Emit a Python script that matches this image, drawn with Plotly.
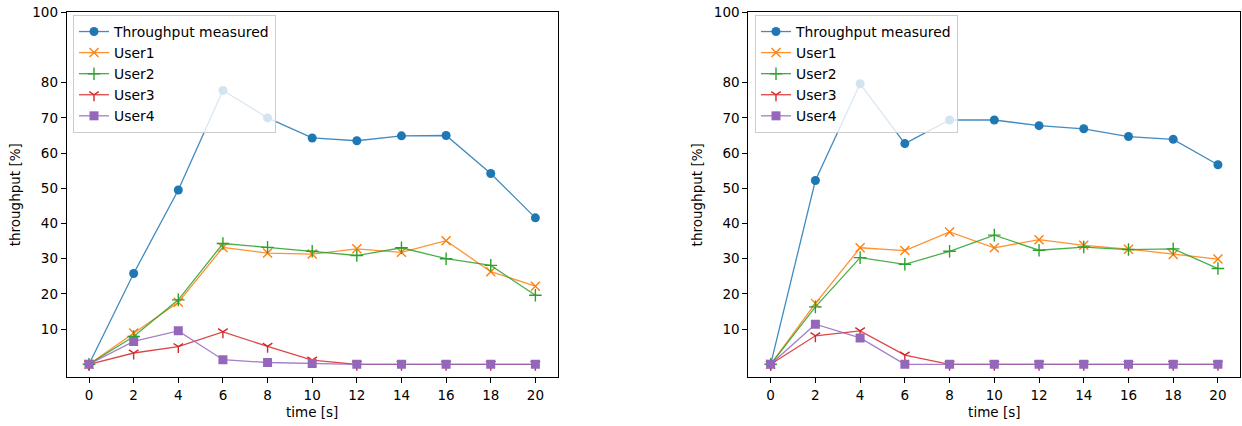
import plotly.graph_objects as go

# ---- data ----
time_s = [0, 2, 4, 6, 8, 10, 12, 14, 16, 18, 20]

left_throughput = [0, 25.8, 49.5, 77.8, 70.0, 64.3, 63.5, 64.9, 65.0, 54.2, 41.6]
left_user1 = [0, 8.9, 17.6, 33.2, 31.6, 31.3, 32.8, 31.8, 35.1, 26.3, 22.2]
left_user2 = [0, 7.9, 18.3, 34.3, 33.2, 32.1, 30.9, 33.1, 30.0, 28.1, 19.6]
left_user3 = [0, 3.2, 5.0, 9.2, 5.1, 1.2, 0, 0, 0, 0, 0]
left_user4 = [0, 6.5, 9.5, 1.3, 0.5, 0.2, 0, 0, 0, 0, 0]

right_throughput = [0, 52.2, 79.7, 62.7, 69.4, 69.4, 67.8, 66.9, 64.7, 63.9, 56.7]
right_user1 = [0, 17.3, 33.1, 32.3, 37.6, 33.1, 35.4, 33.8, 32.7, 31.2, 29.9]
right_user2 = [0, 16.3, 30.3, 28.4, 32.1, 36.7, 32.4, 33.3, 32.6, 32.8, 27.2]
right_user3 = [0, 8.1, 9.5, 2.6, 0, 0, 0, 0, 0, 0, 0]
right_user4 = [0, 11.4, 7.5, 0, 0, 0, 0, 0, 0, 0, 0]

series_names = ["Throughput measured", "User1", "User2", "User3", "User4"]
y_tick_vals = [10, 20, 30, 40, 50, 60, 70, 80, 100]
x_tick_vals = [0, 2, 4, 6, 8, 10, 12, 14, 16, 18, 20]

# ---- styles ----
colors = ["#1f77b4", "#ff7f0e", "#2ca02c", "#d62728", "#9467bd"]
line_rgba = ["rgba(31,119,180,0.85)", "rgba(255,127,14,0.85)", "rgba(44,160,44,0.85)",
             "rgba(214,39,40,0.85)", "rgba(148,103,189,0.85)"]
symbols = ["circle", "x-thin-open", "cross-thin-open", "y-down-open", "square"]
msizes = [9, 9, 9, 8, 9]

FONT = "DejaVu Sans"
W, H = 1242, 426


def px_x(p):
    return min(1.0, p / W)


def px_y(p):
    return 1 - p / H


fig = go.Figure()

panels = [
    ([left_throughput, left_user1, left_user2, left_user3, left_user4], "x", "y", "legend"),
    ([right_throughput, right_user1, right_user2, right_user3, right_user4], "x2", "y2", "legend2"),
]
for data, xa, ya, lg in panels:
    for i, (name, vals) in enumerate(zip(series_names, data)):
        mk = dict(symbol=symbols[i], size=msizes[i], color=colors[i])
        if "open" in symbols[i]:
            mk["line"] = dict(color=colors[i], width=1.4)
        else:
            mk["line"] = dict(width=0)
        fig.add_trace(go.Scatter(
            x=time_s, y=vals, name=name, mode="lines+markers",
            line=dict(color=line_rgba[i], width=1.3),
            marker=mk, xaxis=xa, yaxis=ya, legend=lg,
        ))

axis_common = dict(
    showgrid=False, zeroline=False, showline=True, linecolor="black", linewidth=1,
    mirror=True, ticks="outside", ticklen=5, tickwidth=1, tickcolor="black",
    tickfont=dict(family=FONT, size=13.5, color="black"), automargin=False,
    ticklabeloverflow="allow",
)
xaxis_common = dict(axis_common, range=[-1, 21], tickvals=x_tick_vals,
                    title=dict(text="time [s]", font=dict(family=FONT, size=13.5, color="black"), standoff=6))
yaxis_common = dict(axis_common, range=[-3.7, 100], tickvals=y_tick_vals,
                    title=dict(text="throughput [%]", font=dict(family=FONT, size=13.5, color="black"), standoff=8))

y_dom = [px_y(377.3), px_y(12.3)]
legend_common = dict(
    bgcolor="rgba(255,255,255,0.8)", bordercolor="#cccccc", borderwidth=1,
    font=dict(family=FONT, size=13.9, color="black"),
    xanchor="left", yanchor="top", tracegroupgap=0,
)

fig.update_layout(
    width=W, height=H,
    margin=dict(l=0, r=0, t=0, b=0, autoexpand=False),
    paper_bgcolor="white", plot_bgcolor="white",
    font=dict(family=FONT, size=13.5, color="black"),
    xaxis=dict(xaxis_common, domain=[px_x(66.7), px_x(557.7)], anchor="y"),
    yaxis=dict(yaxis_common, domain=y_dom, anchor="x"),
    xaxis2=dict(xaxis_common, domain=[px_x(748.3), px_x(1240.3)], anchor="y2"),
    yaxis2=dict(yaxis_common, domain=y_dom, anchor="x2"),
    legend=dict(legend_common, x=px_x(73), y=px_y(15)),
    legend2=dict(legend_common, x=px_x(755), y=px_y(15)),
    showlegend=True,
)

# remove the page's default body margin so the figure sits at the window origin
fig.write_html(
    "out.html",
    config={"displayModeBar": False},
    post_script="document.body.style.margin='0';document.body.style.overflow='hidden';",
)
